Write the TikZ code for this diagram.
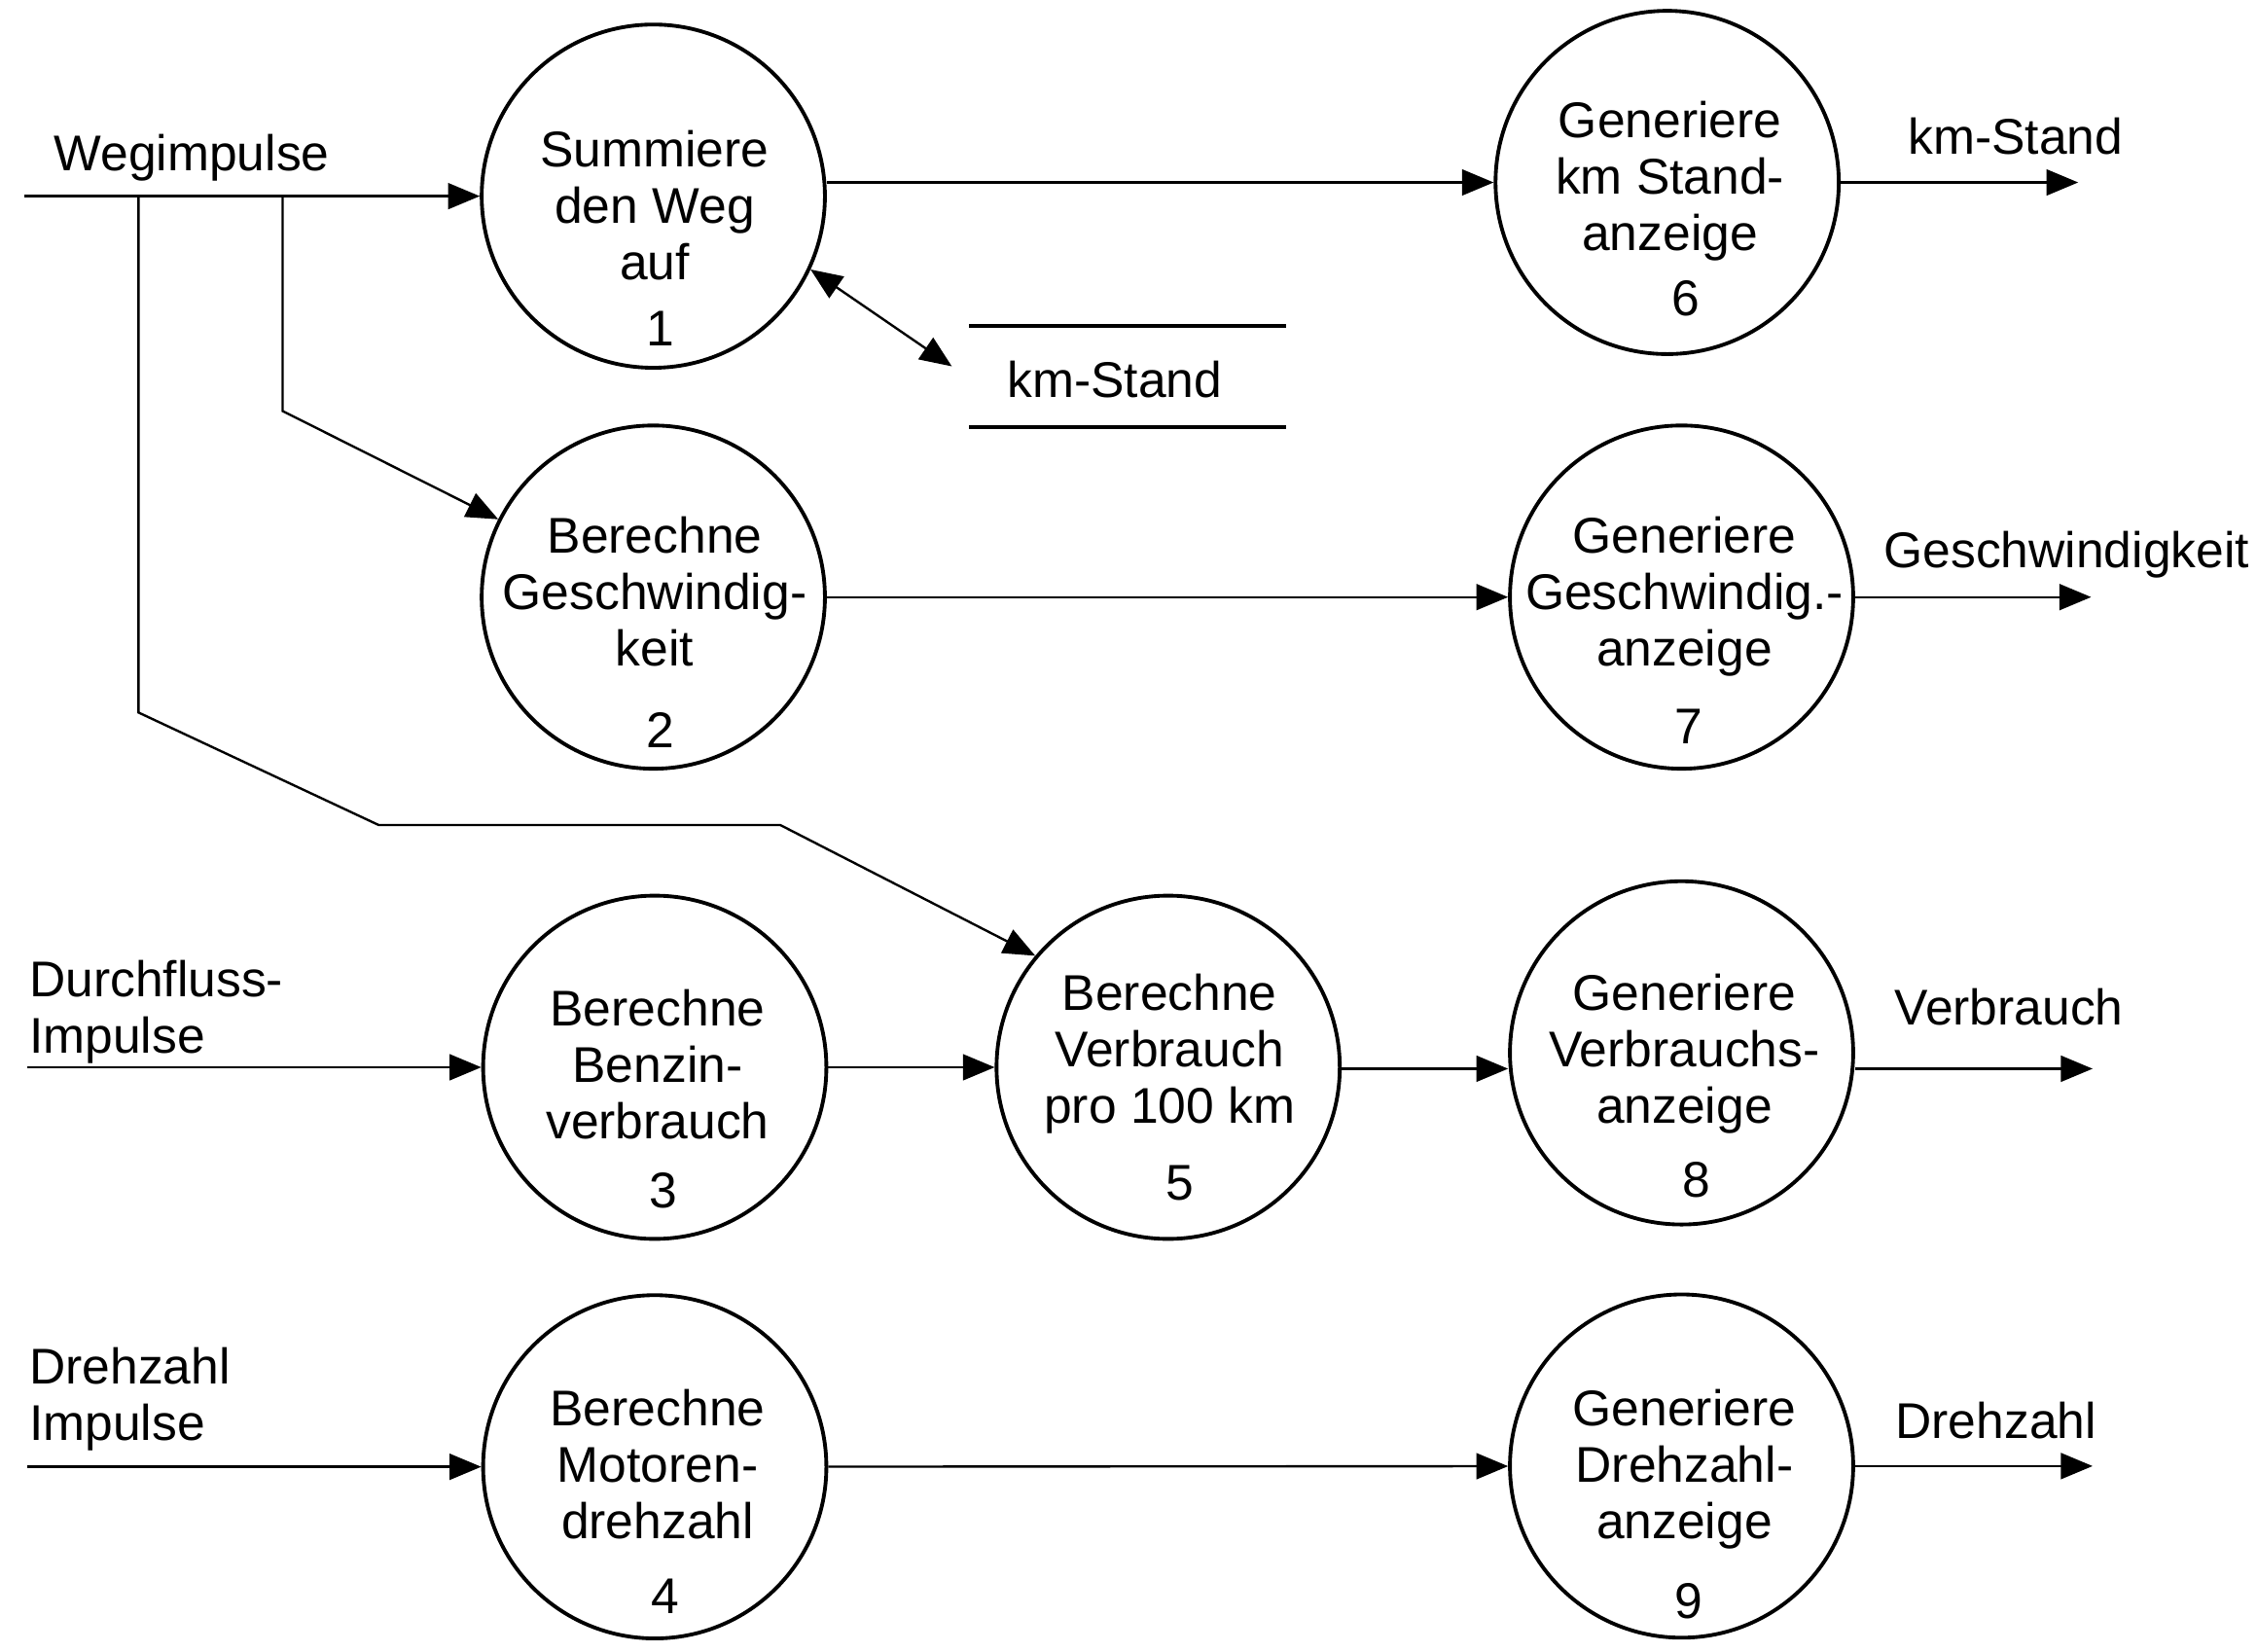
\documentclass[tikz,border=0pt]{standalone}
\usepackage{fontspec}
\setmainfont{Liberation Sans}
\usetikzlibrary{arrows.meta}
\begin{document}
\begin{tikzpicture}[x=0.5pt,y=-0.5pt,
  proc/.style={circle,draw,line width=1.3pt,minimum size=119pt,inner sep=0pt},
  txt/.style={align=center,inner sep=0pt,text depth=0pt,font=\fontsize{17.4}{19.5}\selectfont},
  lbl/.style={align=left,inner sep=0pt,text depth=0pt,font=\fontsize{17.4}{19.5}\selectfont},
  flow/.style={line width=0.8pt,-{Triangle[length=11pt,width=9pt]}},
  dflow/.style={line width=0.8pt,{Triangle[length=11pt,width=9pt]}-{Triangle[length=11pt,width=9pt]}},
  storeline/.style={line width=1.3pt}]
\useasboundingbox (0,0) rectangle (1565,1145.4);

% processes
\node[proc] (c1) at (453,136) {};
\node[proc] (c2) at (453,414) {};
\node[proc] (c3) at (454,740) {};
\node[proc] (c4) at (454,1017) {};
\node[proc] (c5) at (810,740) {};
\node[proc] (c6) at (1156,126.5) {};
\node[proc] (c7) at (1166,414) {};
\node[proc] (c8) at (1166,730) {};
\node[proc] (c9) at (1166,1016.5) {};

% process texts
\node[txt] (t1) at (454,142) {Summiere\\den Weg\\auf};
\node[txt] (n1) at (458,228) {1};
\node[txt] (t2) at (454,410) {Berechne\\Geschwindig-\\keit};
\node[txt] (n2) at (458,506) {2};
\node[txt] (t3) at (456,738) {Berechne\\Benzin-\\verbrauch};
\node[txt] (n3) at (460,825) {3};
\node[txt] (t4) at (456,1015) {Berechne\\Motoren-\\drehzahl};
\node[txt] (n4) at (461,1107) {4};
\node[txt] (t5) at (811,727) {Berechne\\Verbrauch\\pro 100 km};
\node[txt] (n5) at (818,820) {5};
\node[txt] (t6) at (1158,122) {Generiere\\km Stand-\\anzeige};
\node[txt] (n6) at (1169,207) {6};
\node[txt] (t7) at (1168,410) {Generiere\\Geschwindig.-\\anzeige};
\node[txt] (n7) at (1171,504) {7};
\node[txt] (t8) at (1168,727) {Generiere\\Verbrauchs-\\anzeige};
\node[txt] (n8) at (1176,818) {8};
\node[txt] (t9) at (1168,1015) {Generiere\\Drehzahl-\\anzeige};
\node[txt] (n9) at (1171,1110) {9};

% input labels
\node[txt] (lw) at (133,106) {Wegimpulse};
\node[lbl,anchor=west] (ld) at (20,698) {Durchfluss-\\Impulse};
\node[lbl,anchor=west] (lr) at (20,966.5) {Drehzahl\\Impulse};

% output labels
\node[txt] (o6) at (1397.5,94) {km-Stand};
\node[txt] (o7) at (1433,381) {Geschwindigkeit};
\node[txt] (o8) at (1393,698) {Verbrauch};
\node[txt] (o9) at (1384,985) {Drehzahl};

% data store
\node[txt] (ds) at (773,263) {km-Stand};
\coordinate (s1) at (672,226);
\coordinate (s2) at (892,226);
\coordinate (s3) at (672,296);
\coordinate (s4) at (892,296);
\draw[storeline] (s1) -- (s2);
\draw[storeline] (s3) -- (s4);

% free ends
\coordinate (inw) at (17,136);
\coordinate (ind) at (19,740);
\coordinate (inr) at (19,1017);
\coordinate (ow6) at (1441,126.5);
\coordinate (ow7) at (1450,414);
\coordinate (ow8) at (1451,741);
\coordinate (ow9) at (1451,1016.5);
\coordinate (dse) at (660,254);

% branch points
\coordinate (j1) at (96,136);
\coordinate (k1) at (96,494);
\coordinate (k2) at (262.5,572);
\coordinate (k3) at (541,572);
\coordinate (j2) at (196,136);
\coordinate (m1) at (196,285);

% connectors
\draw[flow] (inw) -- (c1);
\draw[flow] (ind) -- (c3);
\draw[flow] (inr) -- (c4);
\draw[flow] (c1.east |- c6) -- (c6);
\draw[flow] (c2) -- (c7);
\draw[flow] (c3) -- (c5);
\draw[flow] (c5.east |- ow8) -- (c8.west |- ow8);
\draw[flow] (c4) -- (c9);
\draw[flow] (c6) -- (ow6);
\draw[flow] (c7) -- (ow7);
\draw[flow] (c8.east |- ow8) -- (ow8);
\draw[flow] (c9) -- (ow9);
\draw[flow] (j1) -- (k1) -- (k2) -- (k3) -- (c5.140);
\draw[flow] (j2) -- (m1) -- (c2);
\draw[dflow] (c1.-25) -- (dse);
\end{tikzpicture}
\end{document}
